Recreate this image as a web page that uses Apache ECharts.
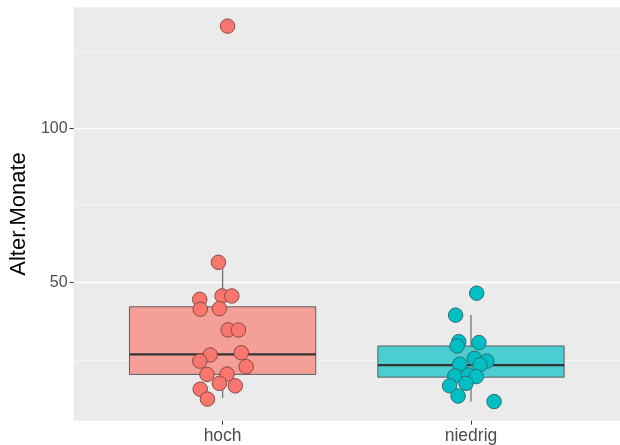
<!DOCTYPE html>
<html>
<head>
<meta charset="utf-8">
<script src="https://cdn.jsdelivr.net/npm/echarts@6/dist/echarts.min.js"></script>
<style>
  html, body { margin: 0; padding: 0; background: #fff; }
  #chart { width: 620px; height: 445px; }
</style>
</head>
<body>
<div id="chart"></div>
<script>
// categories and box stats: [x, lower whisker, Q1, median, Q3, upper whisker]
var categories = ['hoch', 'niedrig']
var boxStats = [
  [1, 12.6, 20.3, 26.8, 42.2, 56.6],
  [2, 11.5, 19.4, 23.3, 29.5, 39.5]
]
var boxColors = ['#F59F99', '#4BCDD1']
var pointColors = ['#F8766D', '#00BFC4']

// jittered points (x position, Alter.Monate)
var hochX = [1.020, 0.983, 0.908, 0.998, 1.037, 0.910, 0.987, 1.022, 1.064, 0.950,
  1.075, 0.908, 1.095, 0.937, 1.018, 0.987, 1.051, 0.910, 0.939]
var hochY = [133.1, 56.6, 44.6, 45.7, 45.7, 41.4, 41.6, 34.7, 34.7, 26.6,
  27.3, 24.6, 22.8, 20.3, 20.4, 17.4, 16.6, 15.5, 12.3]
var niedrigX = [2.023, 1.938, 1.951, 2.032, 1.944, 2.014, 2.064, 1.955, 2.036, 1.935,
  1.990, 2.021, 1.980, 1.914, 1.948, 2.093]
var niedrigY = [46.6, 39.5, 30.9, 30.6, 29.5, 25.5, 24.6, 23.6, 23.4, 19.8,
  20.1, 19.6, 17.4, 16.6, 13.3, 11.5]

var majorTicks = [50, 100]
var minorTicks = [25, 75, 125]

var chart = echarts.init(document.getElementById('chart'))

function pairs (xs, ys) {
  return xs.map(function (x, i) { return [x, ys[i]] })
}

var halfWidth = 0.375
var font = 'Liberation Sans, Arial, Helvetica, sans-serif'

var option = {
  animation: false,
  backgroundColor: '#fff',
  grid: {
    left: 71,
    top: 7.3,
    width: 556.6,
    height: 413.4,
    show: true,
    backgroundColor: '#EBEBEB',
    borderWidth: 0
  },
  xAxis: {
    type: 'value',
    min: 0.4,
    max: 2.6,
    axisLine: { show: false },
    splitLine: { show: false },
    axisTick: {
      show: true,
      customValues: [1, 2],
      length: 4,
      lineStyle: { color: '#333', width: 1 }
    },
    axisLabel: {
      customValues: [1, 2],
      margin: 6,
      color: '#4D4D4D',
      fontSize: 17.5,
      fontFamily: font,
      formatter: function (v) { return categories[Math.round(v) - 1] }
    }
  },
  yAxis: [
    {
      type: 'value',
      min: 5.3,
      max: 139.2,
      name: 'Alter.Monate',
      nameLocation: 'middle',
      nameRotate: 90,
      nameGap: 38,
      nameTextStyle: { color: '#000', fontSize: 22, fontFamily: font },
      axisLine: { show: false },
      axisTick: {
        show: true,
        customValues: majorTicks,
        length: 4,
        lineStyle: { color: '#333', width: 1 }
      },
      axisLabel: {
        customValues: majorTicks,
        margin: 6,
        color: '#4D4D4D',
        fontSize: 16,
        fontFamily: font
      },
      splitLine: { show: true, lineStyle: { color: '#FFFFFF', width: 1.4 } }
    },
    {
      type: 'value',
      min: 5.3,
      max: 139.2,
      axisLine: { show: false },
      axisLabel: { show: false },
      axisTick: { show: false, customValues: minorTicks },
      splitLine: { show: true, lineStyle: { color: '#F7F7F7', width: 0.8 } }
    }
  ],
  series: [
    {
      type: 'custom',
      data: boxStats,
      z: 2,
      renderItem: function (params, api) {
        var x = api.value(0)
        var lo = api.coord([x, api.value(1)])
        var q1l = api.coord([x - halfWidth, api.value(2)])
        var q1r = api.coord([x + halfWidth, api.value(2)])
        var medl = api.coord([x - halfWidth, api.value(3)])
        var medr = api.coord([x + halfWidth, api.value(3)])
        var q3l = api.coord([x - halfWidth, api.value(4)])
        var q1c = api.coord([x, api.value(2)])
        var q3c = api.coord([x, api.value(4)])
        var hi = api.coord([x, api.value(5)])
        return {
          type: 'group',
          children: [
            { type: 'line', shape: { x1: hi[0], y1: hi[1], x2: q3c[0], y2: q3c[1] },
              style: { stroke: '#6B6B6B', lineWidth: 1.2 } },
            { type: 'line', shape: { x1: q1c[0], y1: q1c[1], x2: lo[0], y2: lo[1] },
              style: { stroke: '#6B6B6B', lineWidth: 1.2 } },
            { type: 'rect',
              shape: { x: q3l[0], y: q3l[1], width: q1r[0] - q1l[0], height: q1l[1] - q3l[1] },
              style: { fill: boxColors[params.dataIndex], stroke: '#5E5E5E', lineWidth: 1 } },
            { type: 'line', shape: { x1: medl[0], y1: medl[1], x2: medr[0], y2: medr[1] },
              style: { stroke: '#333333', lineWidth: 2.2 } }
          ]
        }
      }
    },
    {
      type: 'scatter',
      z: 5,
      symbolSize: 14.5,
      data: pairs(hochX, hochY),
      itemStyle: { color: pointColors[0], borderColor: '#8A4A45', borderWidth: 1, opacity: 1 }
    },
    {
      type: 'scatter',
      z: 5,
      symbolSize: 14.5,
      data: pairs(niedrigX, niedrigY),
      itemStyle: { color: pointColors[1], borderColor: '#2E6F72', borderWidth: 1, opacity: 1 }
    }
  ]
}

chart.setOption(option)
</script>
</body>
</html>
